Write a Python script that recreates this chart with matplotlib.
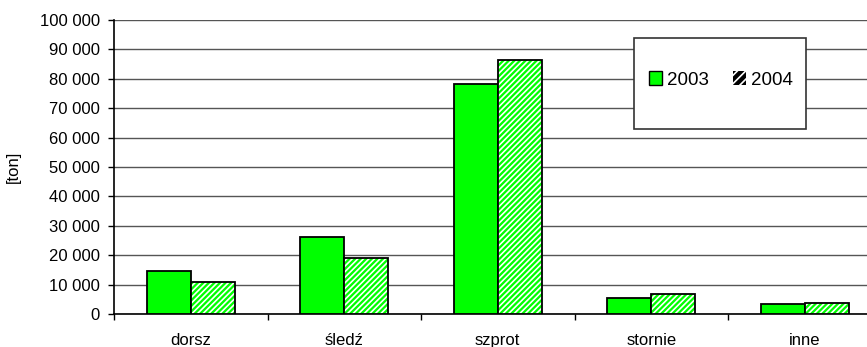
import matplotlib
matplotlib.use("Agg")
import matplotlib.pyplot as plt
from matplotlib.patches import Patch, Rectangle
from matplotlib.ticker import FuncFormatter, FixedLocator
import numpy as np

categories = ["dorsz", "śledź", "szprot", "stornie", "inne"]
series_names = ["2003", "2004"]
catch_2003 = [14600, 26200, 78100, 5500, 3400]
catch_2004 = [10900, 19000, 86300, 6700, 3900]
y_ticks = list(range(0, 100001, 10000))

plt.rcParams["font.family"] = ["Liberation Sans", "DejaVu Sans"]
plt.rcParams["hatch.linewidth"] = 1.2

W, H = 867, 347
fig = plt.figure(figsize=(W / 100, H / 100), dpi=100)
left, right, top, bottom = 114, 881.5, 20, 314
ax = fig.add_axes([left / W, 1 - bottom / H, (right - left) / W, (bottom - top) / H])

green = "#00FF00"
n = len(categories)
x = np.arange(n)
bw = 0.287

# 2003: solid green
ax.bar(x - bw / 2, catch_2003, bw, color=green, edgecolor="black", linewidth=1.3, zorder=3)
# 2004: green with white diagonal stripes, black outline on top
ax.bar(x + bw / 2, catch_2004, bw, color=green, edgecolor="white", hatch="//////", linewidth=0, zorder=3)
ax.bar(x + bw / 2, catch_2004, bw, fill=False, edgecolor="black", linewidth=1.3, zorder=4)

ax.set_xlim(-0.5, n - 0.5)
ax.set_ylim(0, 100000)

ax.yaxis.set_major_locator(FixedLocator(y_ticks))
ax.yaxis.set_major_formatter(FuncFormatter(lambda v, p: f"{int(v):,}".replace(",", " ")))
ax.grid(axis="y", color="#555555", linewidth=1.0, zorder=0)
ax.set_axisbelow(True)

# category boundaries as ticks, names centred between them
ax.set_xticks(np.arange(n + 1) - 0.5)
ax.set_xticklabels([])
ax.set_xticks(x, minor=True)
ax.set_xticklabels(categories, minor=True)
ax.tick_params(axis="x", which="major", direction="out", length=4, width=1, color="black")
ax.tick_params(axis="x", which="minor", length=0, pad=14, labelsize=12)
ax.tick_params(axis="y", direction="out", length=4, width=1, labelsize=12, pad=6)

for s in ["top", "right"]:
    ax.spines[s].set_visible(False)
for s in ["left", "bottom"]:
    ax.spines[s].set_color("black")
    ax.spines[s].set_linewidth(1.2)

ax.set_ylabel("[ton]", fontsize=12, labelpad=14)

# legend box
box = Rectangle((634 / W, 1 - 129 / H), (806 - 634) / W, (129 - 38) / H,
                transform=fig.transFigure, facecolor="white", edgecolor="#333333",
                linewidth=1.2, zorder=10, clip_on=False)
fig.add_artist(box)
handles = [Patch(facecolor=green, edgecolor="black", linewidth=1),
           Patch(facecolor="black", edgecolor="white", hatch="////", linewidth=0)]
leg = fig.legend(handles, series_names, loc="center", bbox_to_anchor=(721 / W, 1 - 80 / H),
                 ncol=2, frameon=False, fontsize=13.5, handlelength=0.7, handleheight=0.7,
                 handletextpad=0.25, columnspacing=1.3, borderaxespad=0)
leg.set_zorder(11)

fig.savefig("out.png", dpi=100)
